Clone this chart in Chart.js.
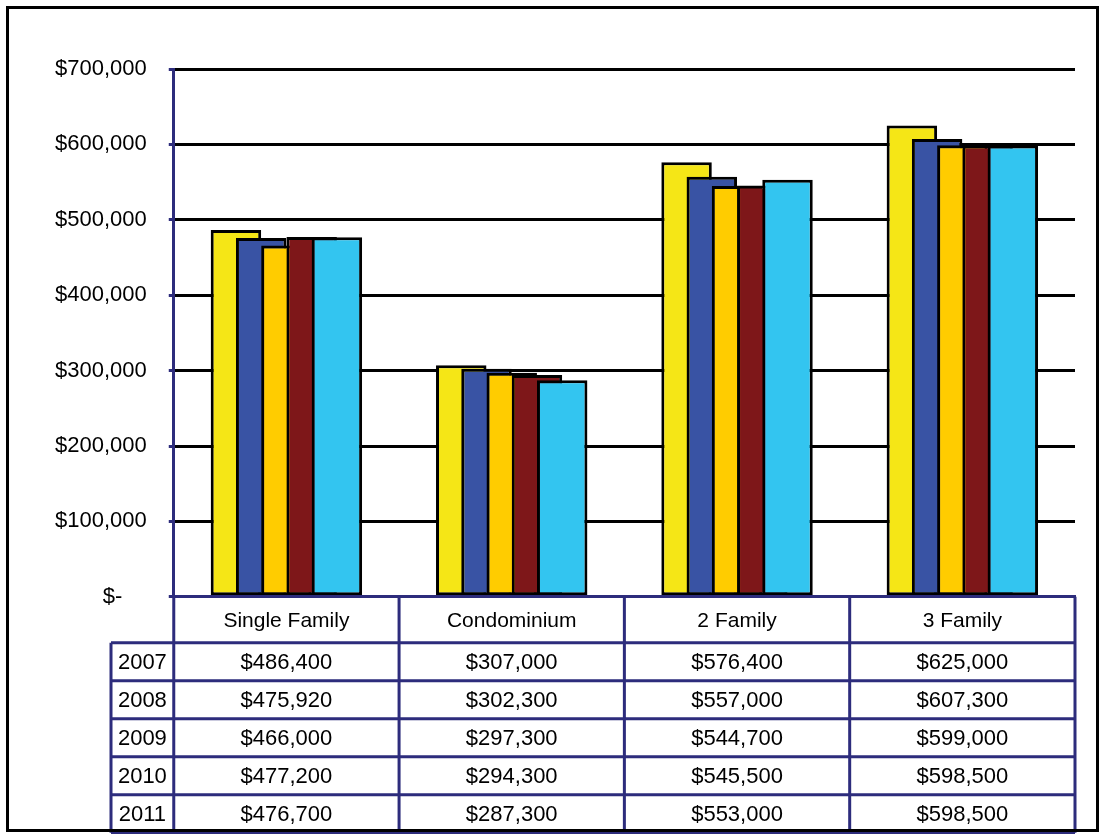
<!DOCTYPE html>
<html>
<head>
<meta charset="utf-8">
<script src="https://cdn.jsdelivr.net/npm/chart.js@4.4.1/dist/chart.umd.min.js"></script>
<style>
  html, body { margin:0; padding:0; background:#fff; }
  #wrap { width:1100px; height:834px; }
</style>
</head>
<body>
<div id="wrap"><canvas id="chart" width="1100" height="834"></canvas></div>
<script>
/* Median sale price chart with data table */
const categories = ['Single Family', 'Condominium', '2 Family', '3 Family'];
const years = ['2007', '2008', '2009', '2010', '2011'];
const v2007 = [486400, 307000, 576400, 625000];
const v2008 = [475920, 302300, 557000, 607300];
const v2009 = [466000, 297300, 544700, 599000];
const v2010 = [477200, 294300, 545500, 598500];
const v2011 = [476700, 287300, 553000, 598500];
const yTicks = [0, 100000, 200000, 300000, 400000, 500000, 600000, 700000];

const series = [v2007, v2008, v2009, v2010, v2011];
const colors = ['#F5E616', '#3953A4', '#FFCC00', '#7E1719', '#33C5F0'];
const NAVY = '#2D2C7C';
const FONT = "'Liberation Sans', Arial, sans-serif";
const money = v => '$' + v.toLocaleString('en-US');

Chart.defaults.font.family = FONT;
Chart.defaults.font.size = 22;
Chart.defaults.color = '#000';

// draw datasets first-to-last so later years sit on top (Excel overlap look)
const forwardOrder = {
  id: 'forwardOrder',
  beforeDatasetsDraw(chart) {
    chart.getSortedVisibleDatasetMetas().forEach(m => m.controller.draw());
    return false;
  }
};

// data table under the x axis + outer frame
const dataTable = {
  id: 'dataTable',
  afterDraw(chart) {
    const {ctx, chartArea, scales:{x}} = chart;
    const half = (x.right - x.left) / categories.length / 2;
    const head = chartArea.bottom, top = head + 46, rowH = 38, labelL = 111;
    const edges = [x.left].concat(categories.map((c, i) => x.getPixelForValue(i) + half));
    ctx.save();
    ctx.strokeStyle = NAVY; ctx.lineWidth = 3;
    ctx.beginPath();
    for (let r = 0; r <= years.length; r++) {
      const y = top + r * rowH;
      ctx.moveTo(labelL, y); ctx.lineTo(x.right, y);
    }
    edges.forEach(cx => { ctx.moveTo(cx, head); ctx.lineTo(cx, top + years.length * rowH); });
    ctx.moveTo(labelL, top); ctx.lineTo(labelL, top + years.length * rowH);
    ctx.stroke();
    ctx.fillStyle = '#000'; ctx.font = '22px ' + FONT;
    ctx.textAlign = 'center'; ctx.textBaseline = 'middle';
    years.forEach((yr, r) => {
      const cy = top + r * rowH + rowH / 2 + 1;
      ctx.fillText(yr, (labelL + x.left) / 2, cy);
      series[r].forEach((v, i) => ctx.fillText(money(v), x.getPixelForValue(i), cy));
    });
    // outer frame
    ctx.strokeStyle = '#000'; ctx.lineWidth = 3;
    ctx.strokeRect(7.5, 7.5, 1090, 823);
    ctx.restore();
  }
};

new Chart(document.getElementById('chart'), {
  type: 'bar',
  data: {
    labels: categories,
    datasets: years.map((yr, i) => ({
      label: yr, data: series[i],
      backgroundColor: colors[i], borderColor: '#000', borderWidth: 3, borderSkipped: false,
      categoryPercentage: 0.56, barPercentage: 2
    }))
  },
  options: {
    responsive: false, animation: false,
    layout: {padding: {left: 33, right: 25, top: 69, bottom: 188}},
    plugins: {legend: {display: false}, tooltip: {enabled: false}},
    scales: {
      x: {
        grid: {display: false, drawTicks: false},
        border: {color: NAVY, width: 3, z: 1},
        ticks: {padding: 12, font: {size: 21}, maxRotation: 0, autoSkip: false}
      },
      y: {
        min: 0, max: 700000,
        afterBuildTicks: s => { s.ticks = yTicks.map(v => ({value: v})); },
        grid: {color: '#000', lineWidth: 3, tickLength: 5, tickColor: NAVY},
        border: {color: NAVY, width: 3},
        ticks: {padding: 22, callback: v => v === 0 ? '$-    ' : money(v)}
      }
    }
  },
  plugins: [forwardOrder, dataTable]
});
</script>
</body>
</html>
